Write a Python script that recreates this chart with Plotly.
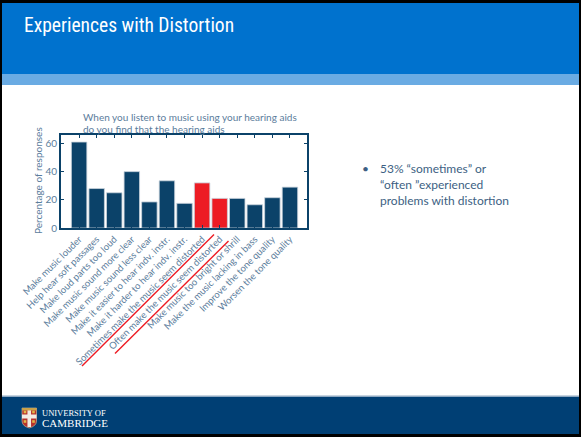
import plotly.graph_objects as go

W, H = 585, 437

categories = [
    "Make music louder",
    "Help hear soft passages",
    "Make loud parts too loud",
    "Make music sound more clear",
    "Make music sound less clear",
    "Make it easier to hear indv. instr.",
    "Make it harder to hear indv. instr.",
    "Sometimes make the music seem distorted",
    "Often make the music seem distorted",
    "Make music too bright or shrill",
    "Make the music lacking in bass",
    "Improve the tone quality",
    "Worsen the tone quality",
]
responses = [61, 28, 25, 40, 18.5, 33.5, 17.5, 32, 21, 21, 16.5, 21.5, 29]
highlight = [False] * 7 + [True, True] + [False] * 4
y_ticks = [0, 20, 40, 60]

chart_title = ["When you listen to music using your hearing aids",
               "do you find that the hearing aids"]
bullet_lines = ["53% “sometimes” or", "“often ”experienced", "problems with distortion"]

NAVY = "#0b4269"
RED = "#ed1c24"
AXIS_TXT = "#5b7d9c"
BODY_TXT = "#3d5f83"
NARROW = "Liberation Sans Narrow, Arial Narrow, Roboto Condensed, DejaVu Sans Condensed, sans-serif"


def px(x):
    return x / W


def py(y):
    return 1 - y / H


bar_colors = [RED if h else NAVY for h in highlight]

fig = go.Figure(
    go.Bar(
        x=list(range(len(categories))),
        y=responses,
        marker=dict(color=bar_colors, line=dict(color="#c9d3dc", width=0.8)),
        width=0.88,
    )
)

shapes = []
# slide frame, header and footer bands
shapes.append(dict(type="rect", xref="paper", yref="paper", x0=0, x1=px(581), y0=0, y1=1,
                   fillcolor="black", line_width=0, layer="below"))
shapes.append(dict(type="rect", xref="paper", yref="paper", x0=px(2), x1=px(579), y0=py(434), y1=py(3),
                   fillcolor="white", line_width=0, layer="below"))
shapes.append(dict(type="rect", xref="paper", yref="paper", x0=px(2), x1=px(579), y0=py(74), y1=py(3),
                   fillcolor="#0072ce", line_width=0, layer="below"))
shapes.append(dict(type="rect", xref="paper", yref="paper", x0=px(2), x1=px(579), y0=py(85), y1=py(74),
                   fillcolor="#6aabe3", line_width=0, layer="below"))
shapes.append(dict(type="rect", xref="paper", yref="paper", x0=px(2), x1=px(579), y0=py(397), y1=py(395.5),
                   fillcolor="#8fa9c2", line_width=0, layer="below"))
shapes.append(dict(type="rect", xref="paper", yref="paper", x0=px(2), x1=px(579), y0=py(434), y1=py(397),
                   fillcolor="#003f74", line_width=0, layer="below"))

# red strike lines under the two distortion labels
for (xa, ya, xb, yb) in [(82, 366, 214, 234.5), (115, 353.5, 228.5, 241)]:
    shapes.append(dict(type="line", xref="paper", yref="paper", x0=px(xa), y0=py(ya), x1=px(xb), y1=py(yb),
                       line=dict(color=RED, width=1.4)))

# university shield
sx0, sx1, sy0, sy1 = 22, 36.5, 408, 428
mx = (sx0 + sx1) / 2
shield_path = (f"M {px(sx0)} {py(sy0)} L {px(sx1)} {py(sy0)} L {px(sx1)} {py(421)} "
               f"Q {px(sx1)} {py(426)} {px(mx)} {py(sy1)} Q {px(sx0)} {py(426)} {px(sx0)} {py(421)} Z")
shapes.append(dict(type="path", xref="paper", yref="paper", path=shield_path,
                   fillcolor="#b5312b", line=dict(color="#d8c8a0", width=0.6)))
shapes.append(dict(type="rect", xref="paper", yref="paper", x0=px(mx - 1.8), x1=px(mx + 1.8),
                   y0=py(sy1 - 1), y1=py(sy0), fillcolor="#f2ece4", line_width=0))
shapes.append(dict(type="rect", xref="paper", yref="paper", x0=px(sx0), x1=px(sx1),
                   y0=py(418.5), y1=py(414.5), fillcolor="#f2ece4", line_width=0))
shapes.append(dict(type="rect", xref="paper", yref="paper", x0=px(sx0), x1=px(sx1),
                   y0=py(410.5), y1=py(sy0), fillcolor="#c9a14a", line_width=0))
for (cx, cy) in [(25, 412), (33.5, 412), (25, 421.5), (33.5, 421.5)]:
    shapes.append(dict(type="rect", xref="paper", yref="paper", x0=px(cx - 1.3), x1=px(cx + 1.3),
                       y0=py(cy + 1.3), y1=py(cy - 1.3), fillcolor="#e0b84a", line_width=0))

annotations = [
    dict(text="Experiences with Distortion", x=px(22), y=py(25), xanchor="left", yanchor="middle",
         font=dict(family=NARROW, size=19.5, color="white")),
    dict(text="Percentage of responses", x=px(38), y=py(181), xanchor="center", yanchor="middle",
         textangle=-90, font=dict(family="Lato", size=10, color=AXIS_TXT)),
    dict(text="•", x=px(360), y=py(168), xanchor="left", yanchor="middle",
         font=dict(family="Lato", size=12, color=BODY_TXT)),
    dict(text="UNIVERSITY OF", x=px(40), y=py(412.5), xanchor="left", yanchor="middle",
         font=dict(family="Liberation Serif", size=8.5, color="white")),
    dict(text="CAMBRIDGE", x=px(40), y=py(423), xanchor="left", yanchor="middle",
         font=dict(family="Liberation Serif", size=11, color="white")),
]
for line, yc in zip(chart_title, [117.5, 129]):
    annotations.append(dict(text=line, x=px(81), y=py(yc), xanchor="left", yanchor="middle",
                            font=dict(family="Lato", size=10, color=AXIS_TXT)))
for line, yc in zip(bullet_lines, [168, 184, 200]):
    annotations.append(dict(text=line, x=px(378), y=py(yc), xanchor="left", yanchor="middle",
                            font=dict(family="Lato", size=12, color=BODY_TXT)))
for a in annotations:
    a.update(xref="paper", yref="paper", showarrow=False)

fig.update_layout(
    width=W, height=H,
    margin=dict(l=0, r=0, t=0, b=0, autoexpand=False),
    paper_bgcolor="white", plot_bgcolor="rgba(0,0,0,0)",
    showlegend=False,
    shapes=shapes,
    annotations=annotations,
    xaxis=dict(
        domain=[px(61), px(307)],
        range=[-1.03, 12.97],
        tickmode="array", tickvals=list(range(len(categories))), ticktext=categories,
        tickangle=-45, tickfont=dict(family="Lato", size=9.5, color=AXIS_TXT),
        ticks="inside", ticklen=3, tickcolor=NAVY,
        showline=True, linecolor=NAVY, linewidth=2, mirror="ticks",
        showgrid=False, zeroline=False, automargin=False,
    ),
    yaxis=dict(
        domain=[py(228), py(135)],
        range=[0, 66],
        tickmode="array", tickvals=y_ticks,
        tickfont=dict(family="Lato", size=10, color=AXIS_TXT),
        ticks="inside", ticklen=3, tickcolor=NAVY,
        showline=True, linecolor=NAVY, linewidth=2, mirror="ticks",
        showgrid=False, zeroline=False, automargin=False,
    ),
)

fig.write_html("out.html")
